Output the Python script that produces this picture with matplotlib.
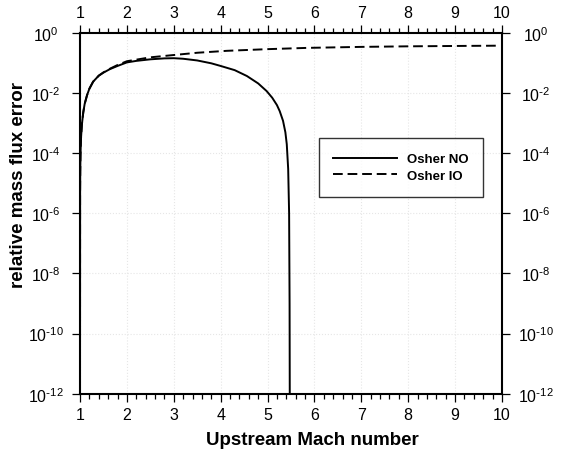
import numpy as np
import matplotlib
matplotlib.use("Agg")
import matplotlib.pyplot as plt
from matplotlib.ticker import FixedLocator, MultipleLocator, FuncFormatter

plt.rcParams['font.family'] = ['Liberation Sans', 'DejaVu Sans']
plt.rcParams['mathtext.default'] = 'regular'
plt.rcParams['axes.unicode_minus'] = False

# Osher scheme, no-overshoot variant (error vanishes past M ~ 5.47)
mach_no = [1.0, 1.002, 1.005, 1.01, 1.02, 1.04, 1.07, 1.1, 1.15, 1.2, 1.28, 1.4,
           1.5, 1.64, 1.8, 2.0, 2.2, 2.5, 2.8, 3.0, 3.2, 3.5, 3.8, 4.0, 4.3,
           4.56, 4.8, 4.98, 5.1, 5.2, 5.26, 5.33, 5.38, 5.41, 5.44, 5.46, 5.47, 5.475]
err_no = [1e-13, 5e-6, 2.6e-5, 8.5e-5, 2.9e-4, 9e-4, 2.3e-3, 4.4e-3, 8.5e-3, 1.4e-2,
          2.4e-2, 3.8e-2, 4.8e-2, 6.3e-2, 8.0e-2, 0.105, 0.118, 0.133, 0.143, 0.145,
          0.139, 0.122, 0.098, 0.080, 0.058, 0.037, 0.021, 0.0117, 7e-3, 4e-3, 2.5e-3,
          1.2e-3, 5e-4, 2e-4, 3e-5, 1e-6, 1e-9, 1e-13]

# Osher scheme, inverted ordering
mach_io = [1.0, 1.002, 1.005, 1.01, 1.02, 1.04, 1.07, 1.1, 1.15, 1.2, 1.28, 1.4,
           1.5, 1.64, 1.8, 2.0, 2.5, 3.0, 3.5, 4.13, 5.0, 5.86, 7.0, 8.0, 9.0, 9.9]
err_io = [1e-13, 5e-6, 2.6e-5, 8.5e-5, 2.9e-4, 9e-4, 2.3e-3, 4.4e-3, 8.5e-3, 1.4e-2,
          2.4e-2, 3.8e-2, 4.9e-2, 6.5e-2, 8.6e-2, 0.115, 0.155, 0.185, 0.22, 0.255,
          0.29, 0.32, 0.345, 0.36, 0.37, 0.378]

y_exponents = [-12, -10, -8, -6, -4, -2, 0]

fig = plt.figure(figsize=(5.61, 4.52), dpi=100)
ax = fig.add_axes([0.1426, 0.1268, 0.7522, 0.798])

ax.plot(mach_no, err_no, color='black', lw=1.4, label='Osher NO')
ax.plot(mach_io, err_io, color='black', lw=1.4, dashes=(5.0, 2.5), label='Osher IO')

ax.set_xlim(1, 10)
ax.set_yscale('log')
ax.set_ylim(1e-12, 1)

ax.xaxis.set_major_locator(MultipleLocator(1))
ax.xaxis.set_minor_locator(MultipleLocator(0.2))
ax.yaxis.set_major_locator(FixedLocator([10.0 ** k for k in y_exponents]))
ax.yaxis.set_minor_locator(FixedLocator([]))


def pow10(v, pos):
    n = int(round(np.log10(v)))
    if n < 0:
        return r'$10^{\text{-}%d}$' % (-n)
    return r'$10^{%d}$' % n


ax.yaxis.set_major_formatter(FuncFormatter(pow10))

ax.tick_params(axis='both', which='both', direction='out', top=True, right=True,
               labeltop=True, labelright=True, labelsize=11.5, width=0.9, color='black')
ax.tick_params(which='major', length=5.6)
ax.tick_params(which='minor', length=3.3)
ax.tick_params(axis='x', which='major', pad=4)
ax.tick_params(axis='y', which='major', pad=19)

# y labels are centred on their anchor on both sides
for t in ax.yaxis.get_major_ticks():
    t.label1.set_horizontalalignment('center')
    t.label2.set_horizontalalignment('center')

for sp in ax.spines.values():
    sp.set_linewidth(1.5)

ax.grid(True, which='major', color='#e6e6e6', linestyle=':', linewidth=0.8)

ax.set_xlabel('Upstream Mach number', fontsize=13.5, fontweight='bold')
ax.set_ylabel('relative mass flux error', fontsize=13.5, fontweight='bold')
ax.xaxis.set_label_coords(0.55, -0.103)
ax.yaxis.set_label_coords(-0.125, 0.58)

leg = ax.legend(loc='center', bbox_to_anchor=(0.7607, 0.627),
                prop={'weight': 'bold', 'size': 9.5}, frameon=True, fancybox=False,
                edgecolor='black', handlelength=4.8, handletextpad=0.8,
                borderpad=1.1, labelspacing=0.35, borderaxespad=0)
leg.get_frame().set_linewidth(1.0)

fig.savefig('out.png', dpi=100)
